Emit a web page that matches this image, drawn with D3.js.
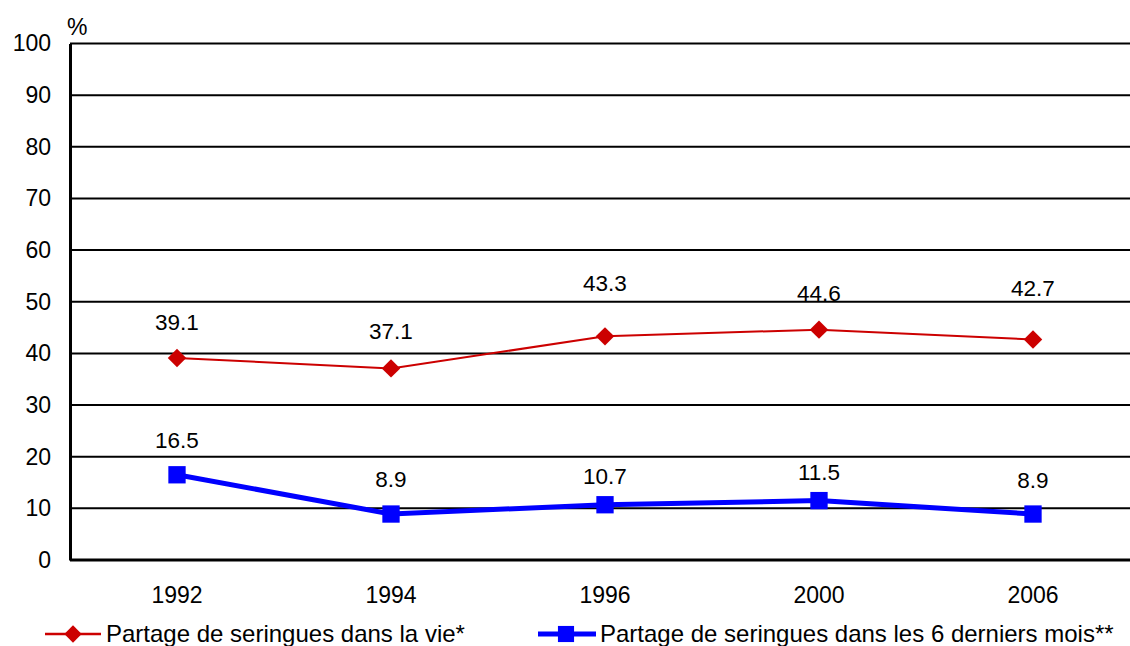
<!DOCTYPE html>
<html>
<head>
<meta charset="utf-8">
<script src="https://cdn.jsdelivr.net/npm/d3@7"></script>
<style>
  html, body { margin: 0; padding: 0; background: #fff; }
  svg { display: block; font-family: "Liberation Sans", Arial, sans-serif; }
</style>
</head>
<body>
<svg id="chart" width="1130" height="646"></svg>
<script>
// Années d'enquête
const years = ["1992", "1994", "1996", "2000", "2006"];
// Partage de seringues dans la vie (%)
const vieValues = [39.1, 37.1, 43.3, 44.6, 42.7];
// Partage de seringues dans les 6 derniers mois (%)
const moisValues = [16.5, 8.9, 10.7, 11.5, 8.9];
// Graduations de l'axe vertical
const yTicks = [0, 10, 20, 30, 40, 50, 60, 70, 80, 90, 100];
// Légendes des séries
const seriesNames = [
  "Partage de seringues dans la vie*",
  "Partage de seringues dans les 6 derniers mois**"
];
// Décalage vertical (px) des étiquettes au-dessus de chaque point
const vieLabelLift = [36, 37, 53, 37, 51];
const moisLabelLift = [35, 35, 29, 28, 34];

const svg = d3.select("#chart");
const margin = { left: 70, right: -10, top: 43.5, bottom: 86 };
const W = 1130, H = 646;
const tickFont = 23, labelFont = 22.5, legendFont = 24;

const x = d3.scaleBand().domain(years).range([margin.left, W - margin.right]);
const y = d3.scaleLinear().domain([0, 100]).range([H - margin.bottom, margin.top]);
const cx = d => x(d) + x.bandwidth() / 2;

// Quadrillage horizontal
svg.append("g")
  .selectAll("line")
  .data(yTicks.filter(t => t > 0))
  .join("line")
  .attr("x1", margin.left).attr("x2", W)
  .attr("y1", d => y(d)).attr("y2", d => y(d))
  .attr("stroke", "#000").attr("stroke-width", 2);

// Axe vertical
const yAxis = svg.append("g")
  .attr("transform", `translate(${margin.left},0)`)
  .call(d3.axisLeft(y).tickValues(yTicks).tickSize(0).tickPadding(19));
yAxis.select(".domain").attr("stroke", "#000").attr("stroke-width", 3);
yAxis.selectAll("text").attr("font-size", tickFont).attr("fill", "#000")
  .attr("font-family", "Liberation Sans, Arial, sans-serif");

// Axe horizontal
const xAxis = svg.append("g")
  .attr("transform", `translate(0,${y(0)})`)
  .call(d3.axisBottom(x).tickSize(0).tickPadding(27));
xAxis.select(".domain").attr("stroke", "#000").attr("stroke-width", 3)
  .attr("d", `M${margin.left},0H${W}`);
xAxis.selectAll("text").attr("font-size", tickFont).attr("fill", "#000")
  .attr("font-family", "Liberation Sans, Arial, sans-serif");

// Unité
svg.append("text")
  .attr("x", 67).attr("y", 35)
  .attr("font-size", tickFont).text("%");

const diamondPath = d3.symbol().type(d3.symbolSquare).size(170)();
const squarePath = d3.symbol().type(d3.symbolSquare).size(300)();

// Série « dans la vie »
svg.append("path")
  .datum(vieValues)
  .attr("fill", "none").attr("stroke", "#cc0000").attr("stroke-width", 2)
  .attr("d", d3.line().x((d, i) => cx(years[i])).y(d => y(d)));
svg.append("g").selectAll("path")
  .data(vieValues).join("path")
  .attr("d", diamondPath)
  .attr("transform", (d, i) => `translate(${cx(years[i])},${y(d)}) rotate(45)`)
  .attr("fill", "#cc0000");
svg.append("g").selectAll("text")
  .data(vieValues).join("text")
  .attr("x", (d, i) => cx(years[i]))
  .attr("y", (d, i) => y(d) - vieLabelLift[i])
  .attr("dy", "0.35em")
  .attr("text-anchor", "middle").attr("font-size", labelFont)
  .text(d => d.toFixed(1));

// Série « 6 derniers mois »
svg.append("path")
  .datum(moisValues)
  .attr("fill", "none").attr("stroke", "#0000ff").attr("stroke-width", 5)
  .attr("stroke-linejoin", "round")
  .attr("d", d3.line().x((d, i) => cx(years[i])).y(d => y(d)));
svg.append("g").selectAll("path")
  .data(moisValues).join("path")
  .attr("transform", (d, i) => `translate(${cx(years[i])},${y(d)})`)
  .attr("d", squarePath)
  .attr("fill", "#0000ff");
svg.append("g").selectAll("text")
  .data(moisValues).join("text")
  .attr("x", (d, i) => cx(years[i]))
  .attr("y", (d, i) => y(d) - moisLabelLift[i])
  .attr("dy", "0.35em")
  .attr("text-anchor", "middle").attr("font-size", labelFont)
  .text(d => d.toFixed(1));

// Légende
const legY = 634;
const leg1 = svg.append("g");
leg1.append("line").attr("x1", 45).attr("x2", 101).attr("y1", legY).attr("y2", legY)
  .attr("stroke", "#cc0000").attr("stroke-width", 2.5);
leg1.append("path")
  .attr("transform", `translate(73,${legY}) rotate(45)`)
  .attr("d", d3.symbol().type(d3.symbolSquare).size(150)())
  .attr("fill", "#cc0000");
leg1.append("text").attr("x", 106).attr("y", legY).attr("dy", "0.35em")
  .attr("font-size", legendFont).text(seriesNames[0]);

const leg2 = svg.append("g");
leg2.append("line").attr("x1", 538).attr("x2", 596).attr("y1", legY).attr("y2", legY)
  .attr("stroke", "#0000ff").attr("stroke-width", 5);
leg2.append("path")
  .attr("transform", `translate(566,${legY})`)
  .attr("d", d3.symbol().type(d3.symbolSquare).size(260)())
  .attr("fill", "#0000ff");
leg2.append("text").attr("x", 600).attr("y", legY).attr("dy", "0.35em")
  .attr("font-size", legendFont).text(seriesNames[1]);
</script>
</body>
</html>
